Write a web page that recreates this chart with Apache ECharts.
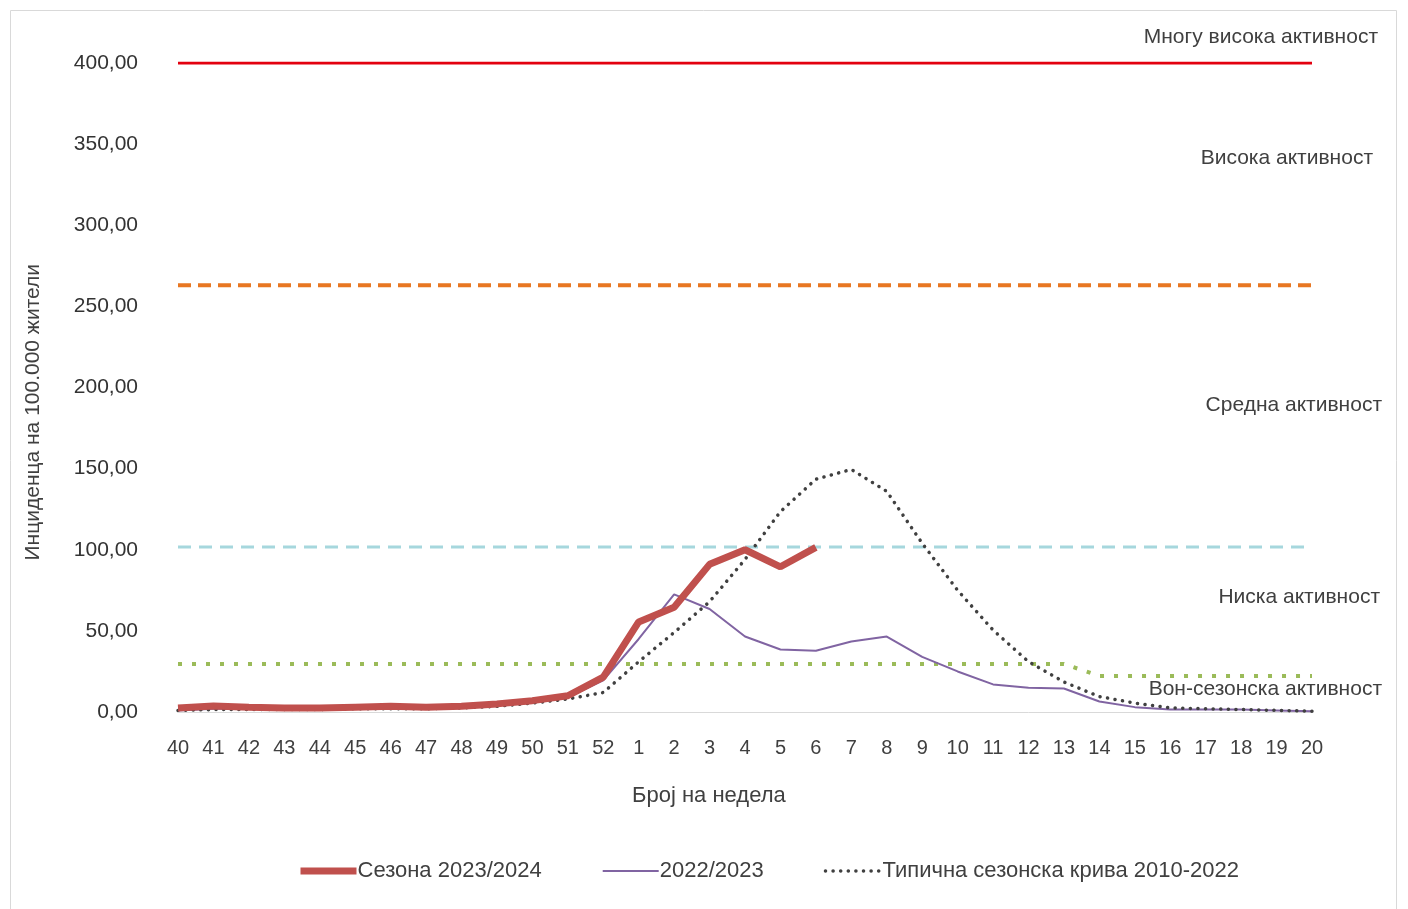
<!doctype html>
<html>
<head>
  <meta charset="utf-8">
  <script src="https://cdn.jsdelivr.net/npm/echarts@6/dist/echarts.min.js"></script>
  <style>
    html, body { margin: 0; width: 100%; height: 100%; background: #fff; }
    #main { width: 1408px; height: 909px; }
  </style>
</head>
<body>
  <div id="main"></div>
  <script>
    // недели 40-52 и 1-20
    var weeks = ['40','41','42','43','44','45','46','47','48','49','50','51','52',
      '1','2','3','4','5','6','7','8','9','10','11','12','13','14','15','16','17','18','19','20'];

    var season2324 = [2.5, 3.7, 3.0, 2.5, 2.5, 3.0, 3.5, 3.0, 3.5, 5.0, 7.0, 10.0, 21.5,
      55.5, 64.5, 91.0, 100.0, 89.5, 101.5];
    var season2223 = [1.0, 2.0, 2.0, 1.5, 1.5, 2.0, 2.0, 2.0, 2.5, 4.0, 6.0, 9.0, 19.5,
      45.0, 72.5, 63.5, 46.5, 38.5, 37.8, 43.5, 46.5, 34.0, 25.0, 17.0, 15.0, 14.5,
      6.5, 3.0, 1.5, 1.5, 1.5, 1.0, 0.5];
    var typicalCurve = [1.0, 1.5, 1.5, 1.5, 1.5, 2.0, 2.0, 2.0, 2.5, 3.5, 5.5, 8.0, 12.0,
      31.0, 49.0, 68.0, 94.0, 123.5, 143.5, 149.5, 136.0, 104.0, 75.0, 50.5, 31.0, 18.5,
      9.5, 5.5, 2.5, 2.0, 1.5, 1.0, 0.5];

    // прагови на активност
    var veryHighLevel = 400;
    var highLevel = 263;
    var mediumLevel = 101.7;
    var offSeasonLevel = [29.6, 29.6, 29.6, 29.6, 29.6, 29.6, 29.6, 29.6, 29.6, 29.6, 29.6, 29.6, 29.6,
      29.6, 29.6, 29.6, 29.6, 29.6, 29.6, 29.6, 29.6, 29.6, 29.6, 29.6, 29.6, 29.6,
      22.2, 22.2, 22.2, 22.2, 22.2, 22.2, 22.2];

    var levelLabels = ['Многу висока активност', 'Висока активност', 'Средна активност',
      'Ниска активност', 'Вон-сезонска активност'];
    var levelTop = [27, 148, 395, 587, 679];
    var levelRight = [30, 35, 26, 28, 26];

    var font = '"Liberation Sans", "Noto Sans", sans-serif';

    function flat(v) {
      return weeks.map(function () { return v; });
    }

    var chart = echarts.init(document.getElementById('main'));

    var graphics = [{
      type: 'rect',
      shape: { x: 10.5, y: 10.5, width: 1386, height: 910 },
      style: { fill: 'none', stroke: '#d9d9d9', lineWidth: 1 },
      silent: true
    }, {
      type: 'text',
      left: 23, top: 264,
      rotation: Math.PI / 2,
      style: { text: 'Инциденца на 100.000 жители', fill: '#404040', font: '21px ' + font }
    }, {
      type: 'text',
      left: 632, top: 785,
      style: { text: 'Број на недела', fill: '#404040', font: '22px ' + font }
    }];
    levelLabels.forEach(function (t, i) {
      graphics.push({
        type: 'text',
        right: levelRight[i], top: levelTop[i],
        style: { text: t, fill: '#404040', font: '21px ' + font }
      });
    });

    var redLine = { color: '#c0504d', width: 7 };
    var purpleLine = { color: '#8064a2', width: 2 };
    var dotLine = { color: '#404040', width: 3.5, type: [0.1, 7.5], cap: 'round' };

    var option = {
      animation: false,
      textStyle: { fontFamily: font },
      grid: { left: 178, right: 96, top: 63, bottom: 197, containLabel: false },
      legend: {
        data: [
          { name: 'Сезона 2023/2024', lineStyle: redLine },
          { name: '2022/2023', lineStyle: purpleLine },
          { name: 'Типична сезонска крива 2010-2022', lineStyle: dotLine }
        ],
        top: 855,
        left: 292,
        itemWidth: 56,
        itemHeight: 14,
        itemGap: 60,
        itemStyle: { opacity: 0 },
        textStyle: { fontSize: 22, color: '#404040', fontFamily: font, padding: [0, 0, 0, -4] }
      },
      xAxis: {
        type: 'category',
        data: weeks,
        boundaryGap: false,
        axisLine: { lineStyle: { color: '#d9d9d9', width: 1 } },
        axisTick: { show: false },
        axisLabel: { color: '#404040', fontSize: 20, margin: 26, interval: 0 }
      },
      yAxis: {
        type: 'value',
        min: 0, max: 400, interval: 50,
        axisLine: { show: false },
        axisTick: { show: false },
        splitLine: { show: false },
        axisLabel: {
          color: '#333', fontSize: 21, margin: 40,
          formatter: function (v) { return v.toFixed(2).replace('.', ','); }
        }
      },
      graphic: graphics,
      series: [{
        name: 'veryHigh', type: 'line', data: flat(veryHighLevel), symbol: 'none', silent: true,
        lineStyle: { color: '#e3000f', width: 3 }
      }, {
        name: 'high', type: 'line', data: flat(highLevel), symbol: 'none', silent: true,
        lineStyle: { color: '#e87722', width: 4, type: [13, 7] }
      }, {
        name: 'medium', type: 'line', data: flat(mediumLevel), symbol: 'none', silent: true,
        lineStyle: { color: '#a6d7dd', width: 3, type: [13, 8] }
      }, {
        name: 'offseason', type: 'line', data: offSeasonLevel, symbol: 'none', silent: true,
        lineStyle: { color: '#9bbb59', width: 4, type: [4, 10] }
      }, {
        name: '2022/2023', type: 'line', data: season2223, symbol: 'none', z: 3,
        itemStyle: { color: '#8064a2' },
        lineStyle: purpleLine
      }, {
        name: 'Типична сезонска крива 2010-2022', type: 'line', data: typicalCurve, symbol: 'none', z: 4,
        itemStyle: { color: '#404040' },
        lineStyle: dotLine
      }, {
        name: 'Сезона 2023/2024', type: 'line', data: season2324, symbol: 'none', z: 5,
        itemStyle: { color: '#c0504d' },
        lineStyle: redLine
      }]
    };

    chart.setOption(option);
  </script>
</body>
</html>
